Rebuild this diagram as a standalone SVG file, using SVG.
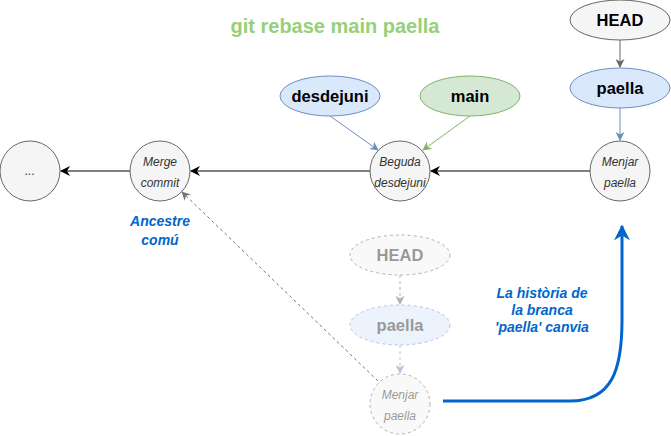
<svg xmlns="http://www.w3.org/2000/svg" width="671" height="436" viewBox="0 0 671 436">
<style>
.commit{fill:#f5f5f5;stroke:#666;stroke-width:1}
.ctext{font-family:"Liberation Sans",Arial,sans-serif;font-size:12px;font-style:italic;fill:#333;text-anchor:middle}
.btext{font-family:"Liberation Sans",Arial,sans-serif;font-size:16.5px;font-weight:bold;fill:#000;text-anchor:middle}
.note{font-family:"Liberation Sans",Arial,sans-serif;font-size:14px;font-weight:bold;font-style:italic;fill:#0066CC;text-anchor:middle}
.faded{opacity:0.5}
</style>
<defs>
<marker id="ablack" viewBox="0 0 10 10" refX="9" refY="5" markerWidth="10" markerHeight="10" markerUnits="userSpaceOnUse" orient="auto"><path d="M0,0 L10,5 L0,10 L3,5 Z" fill="#000"/></marker>
<marker id="agray" viewBox="0 0 10 10" refX="9" refY="5" markerWidth="9" markerHeight="9" markerUnits="userSpaceOnUse" orient="auto"><path d="M0,0 L10,5 L0,10 L3,5 Z" fill="#666"/></marker>
<marker id="ablue" viewBox="0 0 10 10" refX="9" refY="5" markerWidth="9" markerHeight="9" markerUnits="userSpaceOnUse" orient="auto"><path d="M0,0 L10,5 L0,10 L3,5 Z" fill="#6c8ebf"/></marker>
<marker id="agreen" viewBox="0 0 10 10" refX="9" refY="5" markerWidth="9" markerHeight="9" markerUnits="userSpaceOnUse" orient="auto"><path d="M0,0 L10,5 L0,10 L3,5 Z" fill="#82b366"/></marker>
<marker id="abig" viewBox="0 0 10 10" refX="9" refY="5" markerWidth="16" markerHeight="16" markerUnits="userSpaceOnUse" orient="auto"><path d="M0,0 L10,5 L0,10 L3,5 Z" fill="#0066CC"/></marker>
</defs>
<rect width="671" height="436" fill="#fff"/>
<text x="335" y="33" font-family="'Liberation Sans',Arial,sans-serif" font-size="20" font-weight="bold" fill="#97D077" text-anchor="middle">git rebase main paella</text>

<g id="connectors" fill="none">
<line x1="590" y1="171" x2="431" y2="171" stroke="#000" stroke-width="1.2" marker-end="url(#ablack)"/>
<line x1="370" y1="171" x2="191" y2="171" stroke="#000" stroke-width="1.2" marker-end="url(#ablack)"/>
<line x1="130" y1="171" x2="61" y2="171" stroke="#000" stroke-width="1.2" marker-end="url(#ablack)"/>
<line x1="330" y1="116" x2="378" y2="150" stroke="#6c8ebf" stroke-width="1" marker-end="url(#ablue)"/>
<line x1="470" y1="116" x2="423" y2="150" stroke="#82b366" stroke-width="1" marker-end="url(#agreen)"/>
<line x1="620" y1="40" x2="620" y2="67" stroke="#666" stroke-width="1" marker-end="url(#agray)"/>
<line x1="620" y1="108" x2="620" y2="140" stroke="#6c8ebf" stroke-width="1" marker-end="url(#ablue)"/>
<line x1="378" y1="381" x2="182" y2="192" stroke="#666" stroke-width="1" stroke-dasharray="3,3" marker-end="url(#agray)" opacity="0.9"/>
<g class="faded">
<line x1="400" y1="275" x2="400" y2="304" stroke="#666" stroke-width="1" stroke-dasharray="3,3" marker-end="url(#agray)"/>
<line x1="400" y1="345" x2="400" y2="373" stroke="#6c8ebf" stroke-width="1" stroke-dasharray="3,3" marker-end="url(#ablue)"/>
</g>
<path d="M443,401 L570,401 C612,401 622,370 622,320 L622,226" stroke="#0066CC" stroke-width="3" marker-end="url(#abig)"/>
</g>

<g id="n-dots"><circle class="commit" cx="30" cy="171" r="30"/><text class="ctext" x="30" y="175">...</text></g>
<g id="n-merge"><circle class="commit" cx="160" cy="171" r="30"/><text class="ctext" x="160" y="166">Merge</text><text class="ctext" x="160" y="187">commit</text></g>
<g id="n-beguda"><circle class="commit" cx="400" cy="171" r="30"/><text class="ctext" x="400" y="166">Beguda</text><text class="ctext" x="400" y="187">desdejuni</text></g>
<g id="n-menjar"><circle class="commit" cx="620" cy="171" r="30"/><text class="ctext" x="620" y="166">Menjar</text><text class="ctext" x="620" y="187">paella</text></g>

<g id="n-desdejuni"><ellipse cx="330" cy="96" rx="50" ry="20" fill="#dae8fc" stroke="#6c8ebf"/><text class="btext" x="330" y="102">desdejuni</text></g>
<g id="n-main"><ellipse cx="470" cy="96" rx="50" ry="20" fill="#d5e8d4" stroke="#82b366"/><text class="btext" x="470" y="102">main</text></g>
<g id="n-head"><ellipse cx="620" cy="20" rx="50" ry="20" fill="#f5f5f5" stroke="#666"/><text class="btext" x="620" y="26">HEAD</text></g>
<g id="n-paella"><ellipse cx="620" cy="88" rx="50" ry="20" fill="#dae8fc" stroke="#6c8ebf"/><text class="btext" x="620" y="94">paella</text></g>

<g id="n-head-old" class="faded"><ellipse cx="400" cy="255" rx="50" ry="20" fill="#f5f5f5" stroke="#666" stroke-dasharray="3,3"/><text class="btext" x="400" y="261" style="fill:#333">HEAD</text></g>
<g id="n-paella-old" class="faded"><ellipse cx="400" cy="325" rx="50" ry="20" fill="#dae8fc" stroke="#6c8ebf" stroke-dasharray="3,3"/><text class="btext" x="400" y="331" style="fill:#333">paella</text></g>
<g id="n-menjar-old" class="faded"><circle class="commit" cx="400" cy="404" r="30" stroke-dasharray="3,3"/><text class="ctext" x="400" y="399">Menjar</text><text class="ctext" x="400" y="420">paella</text></g>

<g id="n-ancestre"><text class="note" x="160" y="226">Ancestre</text><text class="note" x="160" y="245">comú</text></g>
<g id="n-historia"><text class="note" x="542" y="298">La història de</text><text class="note" x="542" y="315">la branca</text><text class="note" x="542" y="332">'paella' canvia</text></g>
</svg>
